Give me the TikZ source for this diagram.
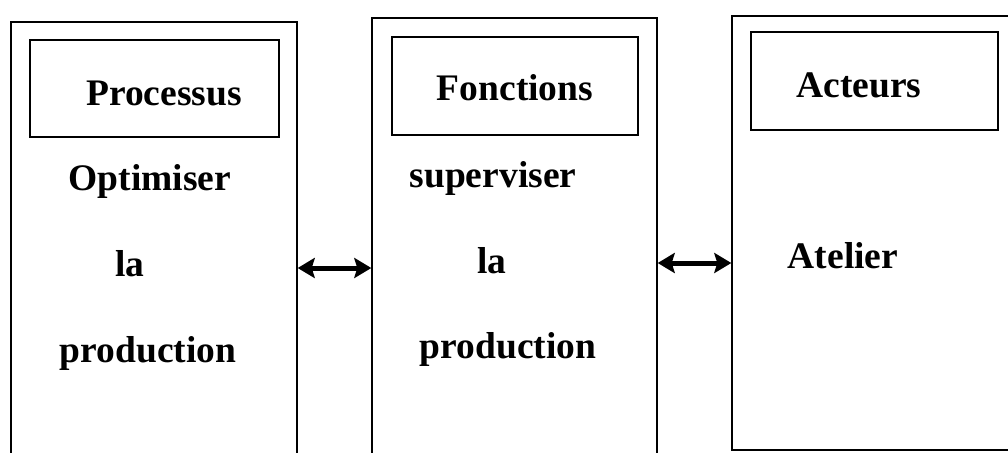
\documentclass[tikz,border=0pt]{standalone}
\usepackage{fontspec}
\setmainfont{Liberation Serif}
\usetikzlibrary{arrows.meta,positioning}
\tikzset{every picture/.style={line width=1.4pt}}
\tikzset{
  colbox/.style={draw,rectangle,inner sep=0pt},
  titlebox/.style={draw,rectangle,inner sep=0pt},
  word/.style={anchor=base,inner sep=0pt,font=\fontsize{37.5}{42}\selectfont\bfseries},
  link/.style={{Stealth[length=17pt,width=20pt,inset=3pt]}-{Stealth[length=17pt,width=20pt,inset=3pt]},line width=5pt}
}

\begin{document}
\begin{tikzpicture}[x=1pt,y=-1pt]
    \useasboundingbox (0,0) rectangle (1008,452);
    \clip (0,0) rectangle (1008,452);

    % Columns
    \node[colbox,minimum width=286pt,minimum height=448pt] (processus) at (154,246) {};
    \node[colbox,minimum width=285pt,minimum height=452pt] (fonctions) at (514.5,244) {};
    \node[colbox,minimum width=298pt,minimum height=434pt] (acteurs) at (881,233) {};

    % Title boxes
    \node[titlebox,minimum width=249pt,minimum height=97pt] (tProcessus) at (154.5,88.5) {};
    \node[titlebox,minimum width=246pt,minimum height=98pt] (tFonctions) at (515,86) {};
    \node[titlebox,minimum width=247pt,minimum height=98pt] (tActeurs) at (874.5,81) {};

    \node[word] (lProcessus) at (164,105) {Processus};
    \node[word] (lFonctions) at (515,100) {Fonctions};
    \node[word] (lActeurs) at (859,97) {Acteurs};

    % Column texts
    \node[word] (optimiser) at (150,190) {Optimiser};
    \node[word] (la1) at (130,276) {la};
    \node[word] (production1) at (148,362) {production};

    \node[word] (superviser) at (493,187) {superviser};
    \node[word] (la2) at (492,273) {la};
    \node[word] (production2) at (508,358) {production};

    \node[word] (atelier) at (843,268) {Atelier};

    % Links
    \draw[link] (processus.east |- 0,268) -- (fonctions.west |- 0,268);
    \draw[link] (fonctions.east |- 0,263) -- (acteurs.west |- 0,263);
\end{tikzpicture}
\end{document}
